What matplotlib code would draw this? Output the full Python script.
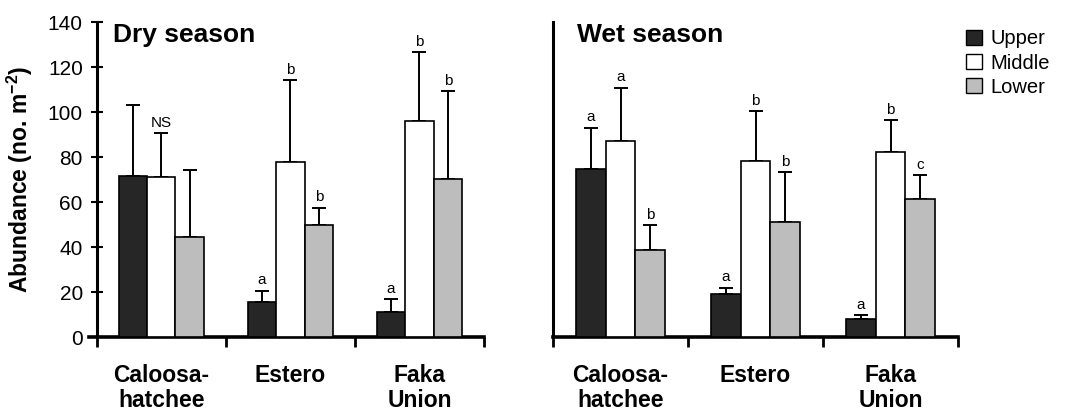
import matplotlib
matplotlib.use("Agg")
import matplotlib.pyplot as plt
import numpy as np
from matplotlib.patches import Patch

plt.rcParams.update(
    {
        "font.family": ["Liberation Sans", "DejaVu Sans"],
        "mathtext.fontset": "custom",
        "mathtext.rm": "Liberation Sans",
        "mathtext.bf": "Liberation Sans:bold",
    }
)

UPPER_C = "#262626"
MIDDLE_C = "white"
LOWER_C = "#bdbdbd"

sites = ["Caloosa-\nhatchee", "Estero", "Faka\nUnion"]
zones = ["Upper", "Middle", "Lower"]

# dry season means and upper error bar lengths
dry_upper = [71.5, 15.4, 11.3]
dry_middle = [71.0, 77.6, 96.1]
dry_lower = [44.3, 49.8, 70.1]
dry_upper_err = [31.5, 5.2, 5.5]
dry_middle_err = [19.5, 36.6, 30.6]
dry_lower_err = [29.9, 7.7, 39.2]
dry_upper_lab = ["", "a", "a"]
dry_middle_lab = ["NS", "b", "b"]
dry_lower_lab = ["", "b", "b"]

# wet season
wet_upper = [74.8, 19.3, 7.9]
wet_middle = [87.1, 78.2, 82.2]
wet_lower = [38.5, 51.3, 61.5]
wet_upper_err = [18.2, 2.6, 1.7]
wet_middle_err = [23.7, 22.2, 14.2]
wet_lower_err = [11.3, 22.0, 10.4]
wet_upper_lab = ["a", "a", "a"]
wet_middle_lab = ["a", "b", "b"]
wet_lower_lab = ["b", "b", "c"]

yticks = [0, 20, 40, 60, 80, 100, 120, 140]


def draw_panel(ax, title, means, errs, labs, show_y):
    colors = [UPPER_C, MIDDLE_C, LOWER_C]
    width = 0.22
    centers = np.arange(len(sites)) + 0.5
    for k, (m, e, lab) in enumerate(zip(means, errs, labs)):
        x = centers + (k - 1) * width
        ax.errorbar(
            x, m, yerr=[np.zeros(len(m)), e], fmt="none", ecolor="black",
            elinewidth=1.4, capsize=5, capthick=1.4, zorder=2,
        )
        ax.bar(x, m, width, color=colors[k], edgecolor="black", linewidth=1.2, zorder=3)
        for xi, mi, ei, li in zip(x, m, e, lab):
            if li:
                ax.text(xi, mi + ei + 1.5, li, ha="center", va="bottom", fontsize=11)

    ax.set_ylim(0, 140)
    ax.spines["top"].set_visible(False)
    ax.spines["right"].set_visible(False)
    ax.spines["left"].set_position(("data", 0))
    ax.spines["left"].set_linewidth(2.2)
    ax.spines["bottom"].set_linewidth(2.6)
    ax.set_xticks([0, 1, 2, 3])
    ax.set_xticklabels([])
    ax.tick_params(axis="x", direction="out", length=7, width=2)
    for c, s in zip(centers, sites):
        ax.text(c, -0.085, s, transform=ax.get_xaxis_transform(), ha="center", va="top",
                fontsize=16.5, fontweight="bold", linespacing=1.1)
    ax.text(0.06, 0.96, title, transform=ax.transAxes, ha="left", va="center",
            fontsize=19, fontweight="bold")
    if show_y:
        ax.set_yticks(yticks)
        ax.tick_params(axis="y", direction="inout", length=8, width=1.5, labelsize=15, pad=6)
        ax.set_ylabel("Abundance (no. m$^{\\mathbf{-2}}$)", fontsize=16.5, fontweight="bold")
        ax.yaxis.set_label_coords(-0.137, 0.5)
    else:
        ax.set_yticks([])


fig = plt.figure(figsize=(10.67, 4.12), dpi=100)
ax1 = fig.add_axes([0.0834, 0.182, 0.3702, 0.7646])
ax1.set_xlim(-0.06, 3.0)
draw_panel(
    ax1, "Dry season",
    [dry_upper, dry_middle, dry_lower],
    [dry_upper_err, dry_middle_err, dry_lower_err],
    [dry_upper_lab, dry_middle_lab, dry_lower_lab],
    True,
)

ax2 = fig.add_axes([0.5183, 0.182, 0.3796, 0.7646])
ax2.set_xlim(0, 3.0)
draw_panel(
    ax2, "Wet season",
    [wet_upper, wet_middle, wet_lower],
    [wet_upper_err, wet_middle_err, wet_lower_err],
    [wet_upper_lab, wet_middle_lab, wet_lower_lab],
    False,
)

handles = [
    Patch(facecolor=c, edgecolor="black", linewidth=1.0, label=z)
    for c, z in zip([UPPER_C, MIDDLE_C, LOWER_C], zones)
]
fig.legend(
    handles=handles, loc="upper left", bbox_to_anchor=(0.898, 0.948), frameon=False,
    fontsize=14.5, handlelength=0.8, handleheight=0.8, handletextpad=0.4,
    labelspacing=0.25, borderaxespad=0,
)

fig.savefig("out.png", dpi=100)
